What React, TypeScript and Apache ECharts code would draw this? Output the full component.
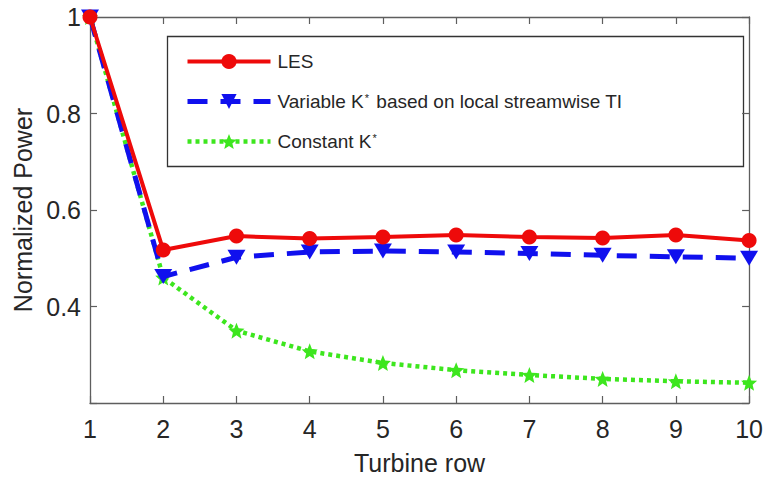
import React, { useEffect, useRef } from "react";
import * as echarts from "echarts";

const rows = [1, 2, 3, 4, 5, 6, 7, 8, 9, 10];
const lesValues = [1.0, 0.517, 0.546, 0.541, 0.544, 0.548, 0.544, 0.542, 0.548, 0.537];
const variableKValues = [1.0, 0.462, 0.502, 0.513, 0.515, 0.513, 0.51, 0.506, 0.503, 0.5];
const constantKValues = [1.0, 0.46, 0.35, 0.307, 0.283, 0.268, 0.258, 0.25, 0.245, 0.242];
const yTicks = [0.2, 0.4, 0.6, 0.8, 1.0];
const seriesNames = ["LES", "Variable K* based on local streamwise TI", "Constant K*"];

const STAR =
  "path://M0,-10 L2.6,-3.6 L9.5,-3.1 L4.2,1.4 L5.9,8.1 L0,4.4 L-5.9,8.1 L-4.2,1.4 L-9.5,-3.1 L-2.6,-3.6 Z";
const TRI_DOWN = "path://M0,10 L-10,-7 L10,-7 Z";

const FONT = "Liberation Sans, Arial, sans-serif";
const AXIS_COLOR = "#5e5e5e";
const TEXT_COLOR = "#262626";
const RED = "#ee0a0a";
const BLUE = "#1010ee";
const GREEN = "#3de61e";

export default function App() {
  const ref = useRef<HTMLDivElement>(null);
  useEffect(() => {
    if (!ref.current) return;
    const chart = echarts.init(ref.current, null, { renderer: "svg" });
    const pairs = (vals: number[]) => rows.map((r, i) => [r, vals[i]]);
    const labelStyle = { fontFamily: FONT, fontSize: 25, color: TEXT_COLOR };
    const axisLine = { show: true, lineStyle: { color: AXIS_COLOR, width: 1.3 } };
    const axisTick = { show: true, inside: true, length: 7, lineStyle: { color: AXIS_COLOR, width: 1.2 } };
    chart.setOption({
      animation: false,
      backgroundColor: "#ffffff",
      textStyle: { fontFamily: FONT },
      grid: { left: 90, right: 14, top: 17, bottom: 75, containLabel: false },
      xAxis: [
        {
          type: "value",
          min: 1,
          max: 10,
          interval: 1,
          name: "Turbine row",
          nameLocation: "middle",
          nameGap: 47,
          nameTextStyle: labelStyle,
          axisLine,
          axisTick,
          axisLabel: { ...labelStyle, margin: 13 },
          splitLine: { show: false },
        },
        {
          type: "value",
          position: "top",
          min: 1,
          max: 10,
          interval: 1,
          axisLine,
          axisTick,
          axisLabel: { show: false },
          splitLine: { show: false },
        },
      ],
      yAxis: [
        {
          type: "value",
          min: 0.2,
          max: 1.0,
          interval: 0.2,
          name: "Normalized Power",
          nameLocation: "middle",
          nameGap: 55,
          nameTextStyle: labelStyle,
          axisLine,
          axisTick,
          axisLabel: {
            ...labelStyle,
            margin: 9,
            formatter: (v: number) => {
              if (Math.abs(v - yTicks[0]) < 1e-6) return "";
              if (Math.abs(v - 1) < 1e-6) return "1";
              return v.toFixed(1);
            },
          },
          splitLine: { show: false },
        },
        {
          type: "value",
          position: "right",
          min: 0.2,
          max: 1.0,
          interval: 0.2,
          axisLine,
          axisTick,
          axisLabel: { show: false },
          splitLine: { show: false },
        },
      ],
      legend: {
        orient: "vertical",
        left: 185,
        top: 52,
        itemWidth: 83,
        itemHeight: 19,
        itemGap: 21,
        padding: 0,
        textStyle: {
          fontFamily: FONT,
          fontSize: 19,
          color: TEXT_COLOR,
          padding: [0, 0, 0, 2],
          rich: {
            sup: { fontSize: 11, verticalAlign: "top", lineHeight: 11, padding: [0, 2, 8, 1] },
          },
        },
        formatter: (name: string) => {
          if (name === seriesNames[1]) return "Variable K{sup|*} based on local streamwise TI";
          if (name === seriesNames[2]) return "Constant K{sup|*}";
          return name;
        },
        data: [
          { name: seriesNames[0], lineStyle: { width: 4 } },
          { name: seriesNames[1], lineStyle: { width: 5 } },
          { name: seriesNames[2], lineStyle: { width: 4.5 } },
        ],
      },
      graphic: [
        {
          type: "rect",
          shape: { x: 167.5, y: 36.5, width: 576, height: 130 },
          style: { fill: "#ffffff", stroke: "#333333", lineWidth: 1.3 },
          z: 0,
          silent: true,
        },
      ],
      series: [
        {
          name: seriesNames[2],
          type: "line",
          data: pairs(constantKValues),
          symbol: STAR,
          symbolSize: 16,
          lineStyle: { color: GREEN, width: 4.5, type: [4, 4] },
          itemStyle: { color: GREEN },
          z: 3,
        },
        {
          name: seriesNames[1],
          type: "line",
          data: pairs(variableKValues),
          symbol: TRI_DOWN,
          symbolSize: [18, 15],
          lineStyle: { color: BLUE, width: 5, type: [20, 13] },
          itemStyle: { color: BLUE },
          z: 4,
        },
        {
          name: seriesNames[0],
          type: "line",
          data: pairs(lesValues),
          symbol: "circle",
          symbolSize: 15,
          lineStyle: { color: RED, width: 4 },
          itemStyle: { color: RED },
          z: 5,
        },
      ],
    });
    return () => chart.dispose();
  }, []);
  return <div ref={ref} style={{ width: 766, height: 480, position: "absolute", left: 0, top: 0 }} />;
}
